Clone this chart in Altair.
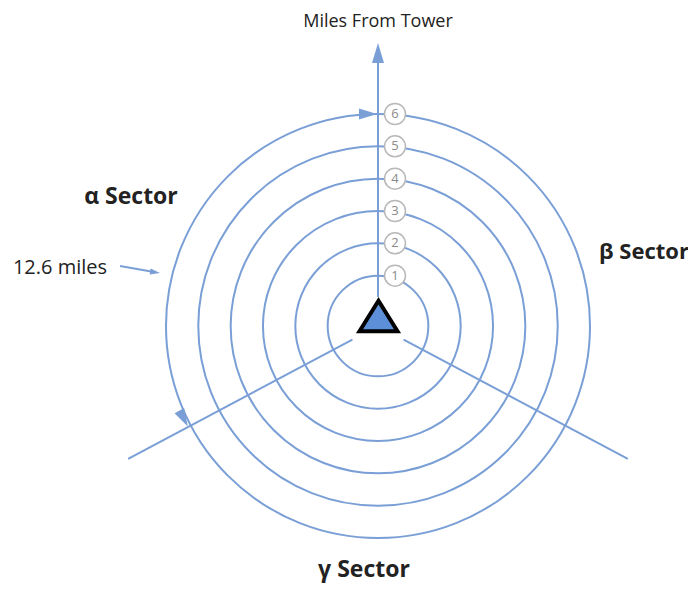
import math
import altair as alt
import pandas as pd

# ---- data ----
ring_miles = [1, 2, 3, 4, 5, 6]
ring_labels = ["1", "2", "3", "4", "5", "6"]
divider_angles_deg = [0, 118, 242]          # clockwise from top
sector_names = ["α Sector", "β Sector", "γ Sector"]
arc_length_label = "12.6 miles"
axis_title = "Miles From Tower"

# ---- layout constants (pixels in plot area) ----
W, H = 680, 578
CX, CY = 370, 318
R0, R6 = 18, 212            # radius for 0 and 6 miles
RAY_IN, RAY_OUT = 29, 283
BLUE = "#7a9fd6"
FONT = "Open Sans"

one = pd.DataFrame({"a": [0]})
rings = pd.DataFrame({"miles": ring_miles, "label": ring_labels})
rad_scale = alt.Scale(type="linear", domain=[0, 6], range=[R0, R6], zero=False)
y_scale = alt.Scale(type="linear", domain=[0, 6], range=[CY - R0, CY - R6], zero=False)

ring_layer = alt.Chart(rings).mark_arc(
    fillOpacity=0, stroke=BLUE, strokeWidth=2
).encode(
    x=alt.value(CX), y=alt.value(CY),
    theta=alt.value(0), theta2=alt.value(2 * math.pi),
    radius=alt.Radius("miles:Q", scale=rad_scale, stack=None),
    radius2=alt.Radius2("miles:Q"),
)

layers = [ring_layer]

for i, a in enumerate(divider_angles_deg):
    rad = math.radians(a)
    r_out = RAY_OUT - 10 if a == 0 else RAY_OUT
    layers.append(
        alt.Chart(one).mark_arc(fillOpacity=0, stroke=BLUE, strokeWidth=2).encode(
            x=alt.value(CX), y=alt.value(CY),
            theta=alt.value(rad), theta2=alt.value(rad),
            radius=alt.value(r_out), radius2=alt.value(RAY_IN),
        )
    )

# small "12.6 miles" arrow shaft
layers.append(
    alt.Chart(one).mark_rule(stroke=BLUE, strokeWidth=2).encode(
        x=alt.value(112), y=alt.value(258), x2=alt.value(146), y2=alt.value(264)
    )
)

HEAD = "M0,-1L0.6,1L-0.6,1Z"

def head_layer(tip_x, tip_y, dx, dy, half):
    ang = math.degrees(math.atan2(dx, -dy)) % 360
    return alt.Chart(one).mark_point(
        shape=HEAD, filled=True, fill=BLUE, color=BLUE, opacity=1, strokeWidth=0,
        angle=ang, size=(2 * half) ** 2
    ).encode(x=alt.value(tip_x - half * dx), y=alt.value(tip_y - half * dy))

# vertical axis arrow
layers.append(head_layer(CX, CY - RAY_OUT, 0, -1, 10))
# alpha arc arrows on ring 6
layers.append(head_layer(CX - 1, CY - R6, 1, 0, 9))
t = math.radians(divider_angles_deg[2])
tip = (CX + R6 * math.sin(t), CY - R6 * math.cos(t))
layers.append(head_layer(tip[0] - 3, tip[1] + 1, -math.cos(t), -math.sin(t), 9))
L = math.hypot(40, 6)
layers.append(head_layer(152, 265, 40 / L, 6 / L, 5))

layers.append(
    alt.Chart(rings).mark_point(
        shape="circle", filled=True, fill="white", stroke="#b8b8b8", strokeWidth=1.5,
        size=440, opacity=1
    ).encode(x=alt.value(387), y=alt.Y("miles:Q", scale=y_scale, axis=None))
)
layers.append(
    alt.Chart(rings).mark_text(
        font=FONT, fontSize=13, color="#8a8a8a", baseline="middle", align="center"
    ).encode(x=alt.value(387), y=alt.Y("miles:Q", scale=y_scale, axis=None), text="label:N")
)

layers.append(
    alt.Chart(one).mark_point(
        shape="M0,-0.8L1,0.8L-1,0.8Z", filled=True, fill="#5d8fd8",
        stroke="black", strokeWidth=4, size=1444, opacity=1, strokeJoin="miter"
    ).encode(x=alt.value(370.5), y=alt.value(308))
)

text_specs = [
    (axis_title, 370, 14, "normal", 18),
    (sector_names[0], 123, 189, "bold", 23),
    (sector_names[1], 636, 244, "bold", 22),
    (sector_names[2], 356, 562, "bold", 23),
    (arc_length_label, 52, 260, "normal", 20),
]
for txt, x, y, wt, fs in text_specs:
    layers.append(
        alt.Chart(pd.DataFrame({"t": [txt]})).mark_text(
            font=FONT, fontSize=fs, fontWeight=wt, color="#222222",
            align="center", baseline="middle"
        ).encode(x=alt.value(x), y=alt.value(y), text="t:N")
    )

chart = alt.layer(*layers).properties(
    width=W, height=H, padding=0, autosize=alt.AutoSizeParams(type="none")
).configure_view(stroke=None)

chart.save("out.html", embed_options={"renderer": "svg", "actions": False})
